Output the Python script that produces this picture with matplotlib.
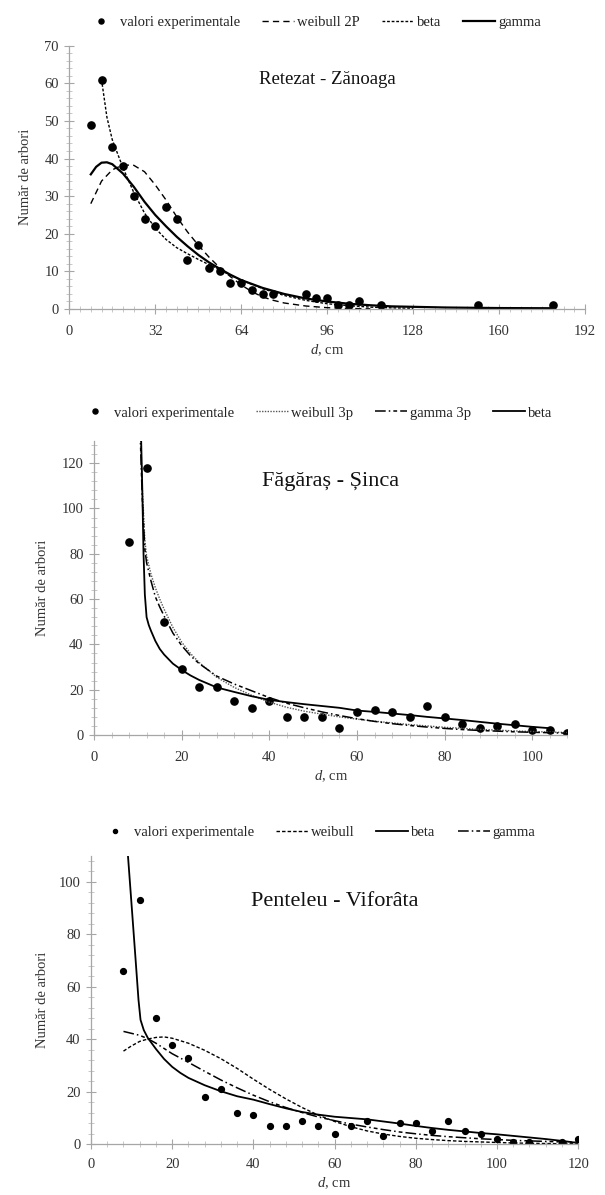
import matplotlib
matplotlib.use("Agg")
import matplotlib.pyplot as plt
from matplotlib.ticker import MultipleLocator

plt.rcParams['font.family'] = ['Liberation Serif', 'DejaVu Serif']
plt.rcParams['mathtext.fontset'] = 'custom'
plt.rcParams['mathtext.rm'] = 'Liberation Serif'
plt.rcParams['mathtext.it'] = 'Liberation Serif:italic'

# ---------------- Panel 1: Retezat - Zănoaga ----------------
p1_d = [8, 12, 16, 20, 24, 28, 32, 36, 40, 44, 48, 52, 56, 60, 64, 68, 72, 76,
        88, 92, 96, 100, 104, 108, 116, 152, 180]
p1_n = [49, 61, 43, 38, 30, 24, 22, 27, 24, 13, 17, 11, 10, 7, 7, 5, 4, 4,
        4, 3, 3, 1, 1, 2, 1, 1, 1]
p1_weib_d = [8, 12, 16, 20, 24, 28, 32, 36, 40, 44, 48, 52, 56, 60, 64, 68, 72,
             76, 80, 88, 96, 104, 112]
p1_weib_v = [28, 34, 37, 38.3, 38.2, 36.5, 33, 29, 24.5, 20.5, 17, 13.8, 11, 8.6,
             6.4, 4.6, 3.2, 2.3, 1.6, 0.8, 0.35, 0.15, 0.05]
p1_beta_d = [12, 14, 16, 20, 24, 28, 32, 36, 40, 44, 48, 52, 56, 60, 64, 72, 80,
             88, 96, 104, 112, 120, 128]
p1_beta_v = [61, 51, 45, 37.5, 31, 25.5, 21.5, 18.5, 16.3, 14.7, 13.2, 11.8, 10.4,
             9.0, 7.7, 5.4, 3.6, 2.3, 1.4, 0.9, 0.5, 0.3, 0.2]
p1_gam_d = [8, 10, 12, 14, 16, 20, 24, 28, 32, 36, 40, 44, 48, 52, 56, 60, 64, 72,
            80, 88, 96, 104, 112, 120, 140, 160, 180]
p1_gam_v = [35.8, 37.8, 38.9, 39.0, 38.5, 36, 32.5, 28.5, 25, 22, 19.2, 16.7, 14.4,
            12.4, 10.7, 9.1, 7.7, 5.6, 4.0, 2.8, 2.0, 1.4, 1.0, 0.7, 0.4, 0.25, 0.2]

# ---------------- Panel 2: Făgăraș - Șinca ----------------
p2_d = [8, 12, 16, 20, 24, 28, 32, 36, 40, 44, 48, 52, 56, 60, 64, 68, 72, 76,
        80, 84, 88, 92, 96, 100, 104, 108]
p2_n = [85, 118, 50, 29, 21, 21, 15, 12, 15, 8, 8, 8, 3, 10, 11, 10, 8, 13,
        8, 5, 3, 4, 5, 2, 2, 1]
p2_weib_d = [10.6, 11, 11.6, 12, 13, 14, 15, 16, 18, 20, 22, 24, 28, 32, 36, 40,
             44, 48, 52, 56, 60, 64, 72, 80, 88, 96, 104, 108]
p2_weib_v = [135, 110, 86, 79, 71, 65, 60, 55.5, 47.5, 41, 36, 32, 25.5, 21, 17.5,
             14.5, 12.2, 10.5, 9.2, 8.0, 7.0, 6.1, 4.6, 3.4, 2.5, 1.8, 1.3, 1.1]
p2_gam_d = [10.5, 11, 11.6, 12, 13, 14, 15, 16, 18, 20, 22, 24, 28, 32, 36, 40, 44,
            48, 52, 56, 60, 64, 68, 72, 76, 80, 84, 88, 92, 96, 100, 104, 108]
p2_gam_v = [135, 105, 82, 76, 68, 61, 56.5, 52.5, 45, 39.5, 35, 31.5, 26, 22.5,
            19.5, 16.5, 14, 12, 10.2, 8.6, 7.2, 6.0, 5.0, 4.2, 3.5, 2.9, 2.4, 2.0,
            1.7, 1.4, 1.2, 1.0, 0.8]
p2_beta_d = [10.7, 11.0, 11.3, 11.6, 12, 12.5, 13, 14, 15, 16, 18, 20, 22, 24, 28,
             32, 36, 40, 44, 48, 52, 56, 60, 64, 68, 72, 76, 80, 84, 88, 92, 96,
             100, 104]
p2_beta_v = [135, 110, 80, 62, 52, 48.5, 46, 41.5, 38, 35.5, 31.5, 28.7, 26.3, 24.3,
             21, 19, 17.1, 15.5, 14.5, 13.6, 12.8, 12.0, 10.8, 10.2, 9.5, 8.8, 8.0,
             7.3, 6.6, 5.8, 5.0, 4.3, 3.6, 3.0]

# ---------------- Panel 3: Penteleu - Viforâta ----------------
p3_d = [8, 12, 16, 20, 24, 28, 32, 36, 40, 44, 48, 52, 56, 60, 64, 68, 72, 76,
        80, 84, 88, 92, 96, 100, 104, 108, 116, 120]
p3_n = [66, 93, 48, 38, 33, 18, 21, 12, 11, 7, 7, 9, 7, 4, 7, 9, 3, 8,
        8, 5, 9, 5, 4, 2, 1, 1, 1, 2]
p3_weib_d = [8, 10, 12, 14, 16, 18, 20, 24, 28, 32, 36, 40, 44, 48, 52, 56, 60, 64,
             68, 72, 76, 80, 84, 88, 92, 96, 100, 104, 108, 112, 116, 120]
p3_weib_v = [35.5, 37.5, 39.2, 40.1, 40.7, 40.9, 40.4, 38.5, 35.8, 32.6, 28.9, 24.8,
             20.9, 17.3, 14.0, 11.1, 8.7, 6.7, 5.1, 3.9, 3.0, 2.3, 1.8, 1.4, 1.1,
             0.9, 0.7, 0.5, 0.4, 0.3, 0.2, 0.2]
p3_beta_d = [9.1, 10.1, 11.0, 11.7, 12.2, 13, 14, 16, 18, 20, 22, 24, 28, 32, 36,
             40, 44, 48, 52, 56, 60, 64, 68, 72, 76, 80, 84, 88, 92, 96, 100, 104,
             108, 112, 116, 119]
p3_beta_v = [110, 89, 70, 55, 47.4, 43.5, 40.5, 36.3, 32.5, 29.5, 27.2, 25.3, 22.5,
             20.2, 18.3, 17.0, 15.3, 13.7, 12.3, 11.3, 10.5, 10.0, 9.5, 8.7, 7.9,
             7.0, 6.2, 5.5, 4.9, 4.3, 3.8, 3.2, 2.6, 2.0, 1.3, 0.7]
p3_gam_d = [8, 12, 14, 16, 20, 24, 28, 32, 36, 40, 44, 48, 52, 56, 60, 64, 68, 72,
            76, 80, 84, 88, 92, 96, 100, 104, 108, 112, 116, 120]
p3_gam_v = [43, 41.5, 40.2, 38.5, 34.5, 31.2, 27.8, 24.5, 21.5, 18.7, 16.2, 14.0,
            12.1, 10.4, 9.0, 7.7, 6.6, 5.6, 4.7, 4.0, 3.4, 2.9, 2.5, 2.1, 1.8, 1.5,
            1.3, 1.1, 0.9, 0.8]

fig = plt.figure(figsize=(6.05, 11.95), dpi=100)
W, H = 605.0, 1195.0


def make_axes(x0, y0_px, x1, ytop_px):
    return fig.add_axes([x0 / W, 1 - y0_px / H, (x1 - x0) / W, (y0_px - ytop_px) / H])


def style(ax, xlim, ylim, xmaj, xmin, ymaj, ymin, xpad):
    ax.set_xlim(*xlim)
    ax.set_ylim(*ylim)
    for s in ['top', 'right']:
        ax.spines[s].set_visible(False)
    for s in ['left', 'bottom']:
        ax.spines[s].set_color('#a6a6a6')
        ax.spines[s].set_linewidth(0.9)
    ax.xaxis.set_major_locator(MultipleLocator(xmaj))
    ax.xaxis.set_minor_locator(MultipleLocator(xmin))
    ax.yaxis.set_major_locator(MultipleLocator(ymaj))
    ax.yaxis.set_minor_locator(MultipleLocator(ymin))
    ax.tick_params(which='major', direction='inout', length=7, width=0.8,
                   color='#a6a6a6', labelsize=10.5, labelcolor='#333333', pad=4)
    ax.tick_params(axis='x', which='major', pad=xpad)
    ax.tick_params(which='minor', direction='inout', length=4, width=0.6,
                   color='#bfbfbf')
    ax.set_xlabel(r'$\it{d}$, cm', fontsize=10.5, color='#333333', labelpad=3)
    ax.set_ylabel('Număr de arbori', fontsize=10.5, color='#333333')


mk = dict(ls='none', marker='o', color='black', markersize=5.2)
leg_kw = dict(loc='center', ncol=4, frameon=False, fontsize=10.5, numpoints=1,
              handlelength=2.2, handletextpad=0.2, columnspacing=1.5,
              labelcolor='#222222', markerscale=0.7)

# Panel 1
ax1 = make_axes(69.3, 309, 585, 45.7)
l0, = ax1.plot(p1_d, p1_n, label='valori experimentale', **mk)
l1, = ax1.plot(p1_weib_d, p1_weib_v, color='black', lw=1.0, ls=(0, (4.5, 3)), label='weibull 2P')
l2, = ax1.plot(p1_beta_d, p1_beta_v, color='black', lw=1.0, ls=(0, (2, 1.3)), label='beta')
l3, = ax1.plot(p1_gam_d, p1_gam_v, color='black', lw=1.6, label='gamma')
style(ax1, (0, 192), (0, 70), 32, 4, 10, 2, 8)
ax1.text(0.5, 0.87, 'Retezat - Zănoaga', transform=ax1.transAxes, ha='center',
         va='center', fontsize=13.5, color='#111111')
fig.legend(handles=[l0, l1, l2, l3], bbox_to_anchor=(313 / W, 1 - 22 / H), **leg_kw)
ax1.yaxis.set_label_coords(-0.072, 0.5)

# Panel 2
ax2 = make_axes(94, 735, 94 + 108 * 4.383, 440.5)
m0, = ax2.plot(p2_d, p2_n, label='valori experimentale', **mk)
m1, = ax2.plot(p2_weib_d, p2_weib_v, color='#555555', lw=1.0, ls=(0, (1, 1)), label='weibull 3p')
m2, = ax2.plot(p2_gam_d, p2_gam_v, color='black', lw=1.1, ls=(0, (7, 2, 1, 2, 2.5, 2)), label='gamma 3p')
m3, = ax2.plot(p2_beta_d, p2_beta_v, color='black', lw=1.3, label='beta')
style(ax2, (0, 108), (0, 130), 20, 4, 20, 4, 8)
ax2.text(0.5, 0.86, 'Făgăraș - Șinca', transform=ax2.transAxes, ha='center',
         va='center', fontsize=16, color='#111111')
fig.legend(handles=[m0, m1, m2, m3], bbox_to_anchor=(316 / W, 1 - 413 / H), **leg_kw)
ax2.yaxis.set_label_coords(-0.095, 0.5)

# Panel 3
ax3 = make_axes(91, 1144.3, 91 + 120 * 4.06, 855.5)
n0, = ax3.plot(p3_d, p3_n, label='valori experimentale', ls='none', marker='o',
               color='black', markersize=4.2)
n1, = ax3.plot(p3_weib_d, p3_weib_v, color='black', lw=1.0, ls=(0, (2.5, 1.5)), label='weibull')
n2, = ax3.plot(p3_beta_d, p3_beta_v, color='black', lw=1.3, label='beta')
n3, = ax3.plot(p3_gam_d, p3_gam_v, color='black', lw=1.1, ls=(0, (7, 2, 1, 2, 2.5, 2)), label='gamma')
style(ax3, (0, 120), (0, 110), 20, 4, 20, 4, 6.5)
ax3.text(0.5, 0.84, 'Penteleu - Viforâta', transform=ax3.transAxes, ha='center',
         va='center', fontsize=16, color='#111111')
fig.legend(handles=[n0, n1, n2, n3], bbox_to_anchor=(317 / W, 1 - 832 / H), **leg_kw)
ax3.yaxis.set_label_coords(-0.086, 0.5)

fig.savefig('out.png', dpi=100, facecolor='white')
